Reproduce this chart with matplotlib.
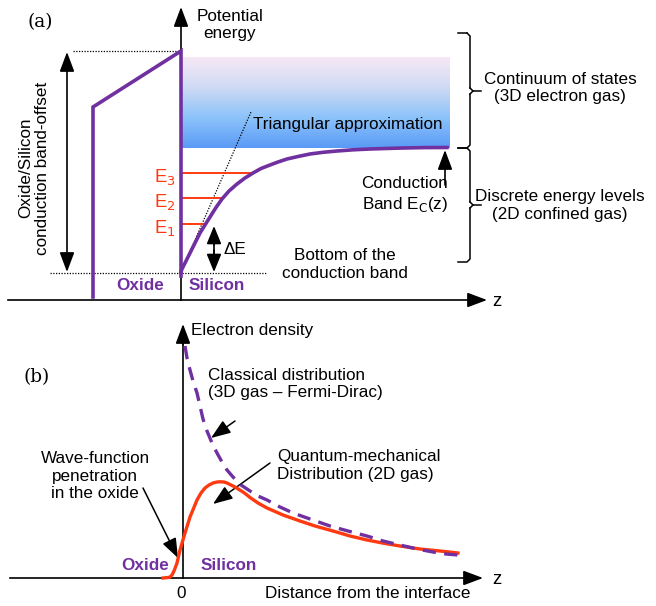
import numpy as np
import matplotlib
matplotlib.use("Agg")
import matplotlib.pyplot as plt
from matplotlib.colors import LinearSegmentedColormap

plt.rcParams['font.family'] = ['Liberation Sans', 'DejaVu Sans']

PURPLE = '#7030a0'
RED = '#ff3a10'

# ---------------- data (pixel-space schematic coordinates) ----------------
# Panel (a): conduction band in silicon
band_x = [181, 182, 186, 190, 195, 200, 205, 210, 216, 222, 229, 237, 245, 253, 261, 270, 278,
          287, 298, 310, 323, 337, 353, 370, 386, 403, 425, 447]
band_y = [272, 269, 261, 253, 243, 233, 225, 217, 207.5, 199, 191, 184, 178, 173, 168.5, 165, 162,
          159, 156.5, 154, 152.3, 151, 149.8, 149, 148.5, 148, 147.6, 147.5]
# oxide barrier
oxide_x = [93, 93, 181, 181]
oxide_y = [297, 107, 51, 276]
# energy levels
level_names = ['E$_1$', 'E$_2$', 'E$_3$']
level_y = [224, 198, 173]
level_xend = [203, 222, 253]
# triangular approximation
tri_x = [181, 251]
tri_y = [272, 112]

# Panel (b): electron densities
classical_x = [185, 187, 190, 193, 197, 200, 203, 207, 212, 217, 222, 227, 233, 241, 250, 258, 267,
               280, 293, 310, 330, 348, 367, 383, 400, 417, 433, 446, 458]
classical_y = [346, 358, 370, 381, 393, 406, 419, 431, 443, 453, 462, 470, 477, 485, 491, 496, 500,
               507, 513, 519, 526, 531, 536, 541, 545, 549, 552, 554, 555]
quantum_x = [163, 168, 170, 172, 174, 177, 180, 185, 190, 197, 201, 205, 209, 213, 217, 220, 224,
             227, 231, 235, 239, 243, 247, 250, 258, 267, 283, 300, 315, 333, 350, 367, 385, 400,
             420, 440, 458]
quantum_y = [578, 577.5, 577, 575, 571, 563, 550, 533, 517, 500, 493, 488, 485, 483, 482, 481.8,
             482, 483, 485, 487, 489.5, 492, 495, 497.5, 503, 508, 515, 521, 526, 531, 536, 540,
             543.5, 546, 549, 551, 553]

fig = plt.figure(figsize=(6.56, 6.06), dpi=100)
ax = fig.add_axes([0, 0, 1, 1])
ax.set_xlim(0, 656)
ax.set_ylim(606, 0)
ax.axis('off')

FS = 12.3

def arrow(x0, y0, x1, y1, lw=1.0, hw=6, hl=8):
    ax.annotate('', xy=(x1, y1), xytext=(x0, y0),
                arrowprops=dict(arrowstyle=f'-|>,head_width={hw/20:.2f},head_length={hl/10:.2f}',
                                color='black', lw=lw, shrinkA=0, shrinkB=0))

# ---------------- panel (a) ----------------
cmap = LinearSegmentedColormap.from_list('cont', ['#f7e8f6', '#cfdaf4', '#8cc3fa', '#5a9af6'])
grad = np.linspace(0, 1, 256).reshape(-1, 1)
ax.imshow(grad, extent=[182, 450, 148, 57], cmap=cmap, aspect='auto', zorder=1)

# axes
ax.plot([8, 478], [300, 300], color='black', lw=1.2, zorder=3)
arrow(470, 300, 487, 300, lw=1.2, hw=9, hl=12)
ax.plot([181, 181], [300, 20], color='black', lw=1.2, zorder=3)
arrow(181, 25, 181, 7, lw=1.2, hw=9, hl=12)
ax.text(497, 302, 'z', fontsize=FS + 1, ha='center', va='center')

# dotted reference lines
ax.plot([73, 181], [51, 51], color='black', lw=0.9, ls=(0, (1, 1.2)), zorder=3)
ax.plot([50, 267], [273, 273], color='black', lw=0.9, ls=(0, (1, 1.2)), zorder=3)
ax.plot(tri_x, tri_y, color='black', lw=0.9, ls=(0, (1, 1.2)), zorder=4)

# band-offset double arrow
arrow(67, 60, 67, 52, lw=1.2, hw=9, hl=12)
arrow(67, 262, 67, 272, lw=1.2, hw=9, hl=12)
ax.plot([67, 67], [60, 262], color='black', lw=1.2)
ax.text(34, 168, 'Oxide/Silicon\nconduction band-offset', rotation=90, fontsize=FS,
        ha='center', va='center', linespacing=1.2)

# oxide barrier and band
ax.plot(oxide_x, oxide_y, color=PURPLE, lw=2.6, zorder=5, solid_joinstyle='miter')
ax.plot(band_x, band_y, color=PURPLE, lw=2.6, zorder=5)

# energy levels
for name, y, xe in zip(level_names, level_y, level_xend):
    ax.plot([181, xe], [y, y], color=RED, lw=1.4, zorder=4)
    ax.text(176, y + 4, name, color=RED, fontsize=FS + 1, ha='right', va='center')

# Delta E arrow
arrow(214, 245, 214, 226, lw=1.2, hw=9, hl=11)
arrow(214, 250, 214, 272, lw=1.2, hw=9, hl=11)
ax.plot([214, 214], [235, 262], color='black', lw=1.2)
ax.text(224, 249, 'ΔE', fontsize=FS, ha='left', va='center')

ax.text(253, 125, 'Triangular approximation', fontsize=FS, ha='left', va='center', zorder=6)
ax.text(405, 195, 'Conduction\nBand E$_\\mathrm{C}$(z)', fontsize=FS, ha='center', va='center',
        linespacing=1.25)
arrow(445, 185, 445, 150, lw=1.2, hw=9, hl=12)
ax.text(345, 265, 'Bottom of the\nconduction band', fontsize=FS, ha='center', va='center',
        linespacing=1.25)
ax.text(140, 286, 'Oxide', fontsize=FS, fontweight='bold', color=PURPLE, ha='center', va='center')
ax.text(217, 286, 'Silicon', fontsize=FS, fontweight='bold', color=PURPLE, ha='center', va='center')
ax.text(230, 25, 'Potential\nenergy', fontsize=FS, ha='center', va='center', linespacing=1.15)
ax.text(40, 22, '(a)', fontsize=FS + 1, family='DejaVu Serif', ha='center', va='center')

# braces
def brace(y0, ym, y1, xv=470, xl=458, xr=481):
    ax.plot([xl, xv - 3], [y0, y0], color='black', lw=1.1)
    ax.plot([xv - 3, xv, xv], [y0, y0 + 3, ym - 3], color='black', lw=1.1)
    ax.plot([xv, xv + 3, xr], [ym - 3, ym, ym], color='black', lw=1.1)
    ax.plot([xv, xv, xv - 3, xl], [ym + 3, y1 - 3, y1, y1], color='black', lw=1.1)
    ax.plot([xv, xv + 3], [ym + 3, ym], color='black', lw=1.1)

brace(33, 91, 148)
brace(148, 205, 262)
ax.text(560, 88, 'Continuum of states\n(3D electron gas)', fontsize=FS, ha='center', va='center',
        linespacing=1.25)
ax.text(560, 205, 'Discrete energy levels\n(2D confined gas)', fontsize=FS, ha='center', va='center',
        linespacing=1.25)

# ---------------- panel (b) ----------------
ax.plot([10, 472], [578, 578], color='black', lw=1.2, zorder=3)
arrow(465, 578, 483, 578, lw=1.2, hw=9, hl=12)
ax.plot([183, 183], [578, 340], color='black', lw=1.2, zorder=3)
arrow(183, 345, 183, 324, lw=1.2, hw=9, hl=12)
ax.text(497, 580, 'z', fontsize=FS + 1, ha='center', va='center')
ax.text(181, 593, '0', fontsize=FS, ha='center', va='center')
ax.text(265, 593, 'Distance from the interface', fontsize=FS, ha='left', va='center')
ax.text(191, 330, 'Electron density', fontsize=FS, ha='left', va='center')
ax.text(37, 377, '(b)', fontsize=FS + 1, family='DejaVu Serif', ha='center', va='center')

ax.plot(classical_x, classical_y, color=PURPLE, lw=2.4, ls=(0, (4, 2.5)), zorder=5)
ax.plot(quantum_x, quantum_y, color=RED, lw=2.4, zorder=4)

ax.text(208, 384, 'Classical distribution\n(3D gas – Fermi-Dirac)', fontsize=FS, ha='left',
        va='center', linespacing=1.25)
arrow(235, 421, 211, 438, lw=1.1, hw=9, hl=12)
ax.text(277, 466, 'Quantum-mechanical\nDistribution (2D gas)', fontsize=FS, ha='left',
        va='center', linespacing=1.25)
arrow(270, 463, 213, 504, lw=1.1, hw=9, hl=12)
ax.text(95, 476, 'Wave-function\npenetration\nin the oxide', fontsize=FS, ha='center',
        va='center', linespacing=1.2)
arrow(143, 488, 178, 558, lw=1.1, hw=9, hl=12)
ax.text(145, 566, 'Oxide', fontsize=FS, fontweight='bold', color=PURPLE, ha='center', va='center')
ax.text(229, 566, 'Silicon', fontsize=FS, fontweight='bold', color=PURPLE, ha='center', va='center')

fig.savefig('out.png', dpi=100)
